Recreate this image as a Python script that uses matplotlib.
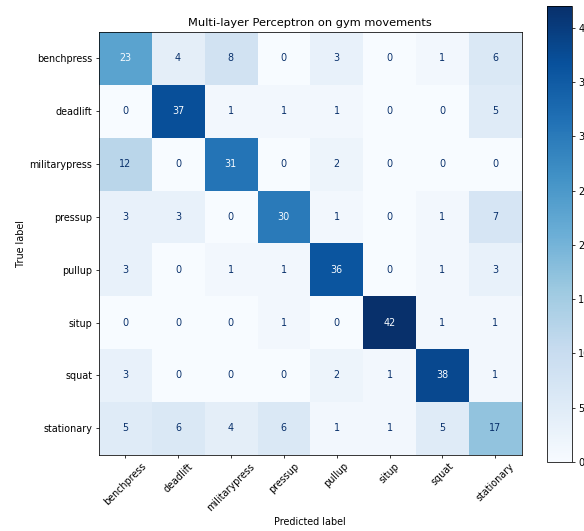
import numpy as np
import matplotlib
matplotlib.use("Agg")
from matplotlib import pyplot as plt

labels = ["benchpress", "deadlift", "militarypress", "pressup",
          "pullup", "situp", "squat", "stationary"]

row_benchpress = [23, 4, 8, 0, 3, 0, 1, 6]
row_deadlift = [0, 37, 1, 1, 1, 0, 0, 5]
row_militarypress = [12, 0, 31, 0, 2, 0, 0, 0]
row_pressup = [3, 3, 0, 30, 1, 0, 1, 7]
row_pullup = [3, 0, 1, 1, 36, 0, 1, 3]
row_situp = [0, 0, 0, 1, 0, 42, 1, 1]
row_squat = [3, 0, 0, 0, 2, 1, 38, 1]
row_stationary = [5, 6, 4, 6, 1, 1, 5, 17]

FONT = 6.9
TITLE_FONT = 8.2


def Plot_Confusion(Matrix):
	fig = plt.figure(figsize=(5.84, 5.31), dpi=100)
	ax = fig.add_axes([98.7 / 584, 1 - 454.7 / 531, 423 / 584, 422.7 / 531])
	cax = fig.add_axes([547.3 / 584, 1 - 462 / 531, 24.4 / 584, 456 / 531])

	cmap = plt.cm.Blues
	im = ax.imshow(Matrix, cmap=cmap, interpolation="nearest", vmin=Matrix.min(), vmax=Matrix.max())
	ax.set_aspect("auto")

	# text colour flips at the midpoint, like sklearn's display
	thresh = (Matrix.max() + Matrix.min()) / 2.0
	for i in range(Matrix.shape[0]):
		for j in range(Matrix.shape[1]):
			colour = cmap(0.0) if Matrix[i, j] >= thresh else cmap(1.0)
			ax.text(j, i, str(Matrix[i, j]), ha="center", va="center", color=colour, fontsize=FONT)

	ax.set_xticks(np.arange(len(labels)))
	ax.set_yticks(np.arange(len(labels)))
	ax.set_xticklabels(labels, rotation=45, fontsize=FONT)
	ax.set_yticklabels(labels, fontsize=FONT)
	ax.set_xlabel("Predicted label", fontsize=FONT, labelpad=3)
	ax.set_ylabel("True label", fontsize=FONT, labelpad=2.6)
	ax.set_title("Multi-layer Perceptron on gym movements", fontsize=TITLE_FONT, pad=4)
	ax.tick_params(length=2.3, width=0.55, pad=2.3)
	for s in ax.spines.values():
		s.set_linewidth(0.55)

	cb = fig.colorbar(im, cax=cax)
	cb.ax.tick_params(labelsize=FONT, length=2.3, width=0.55, pad=2.3)
	cb.outline.set_linewidth(0.55)

	fig.savefig("out.png", dpi=100)


def main():
	Confusion = np.array([row_benchpress, row_deadlift, row_militarypress, row_pressup,
	                      row_pullup, row_situp, row_squat, row_stationary])
	Plot_Confusion(Confusion)


if __name__ == '__main__':
	main()
